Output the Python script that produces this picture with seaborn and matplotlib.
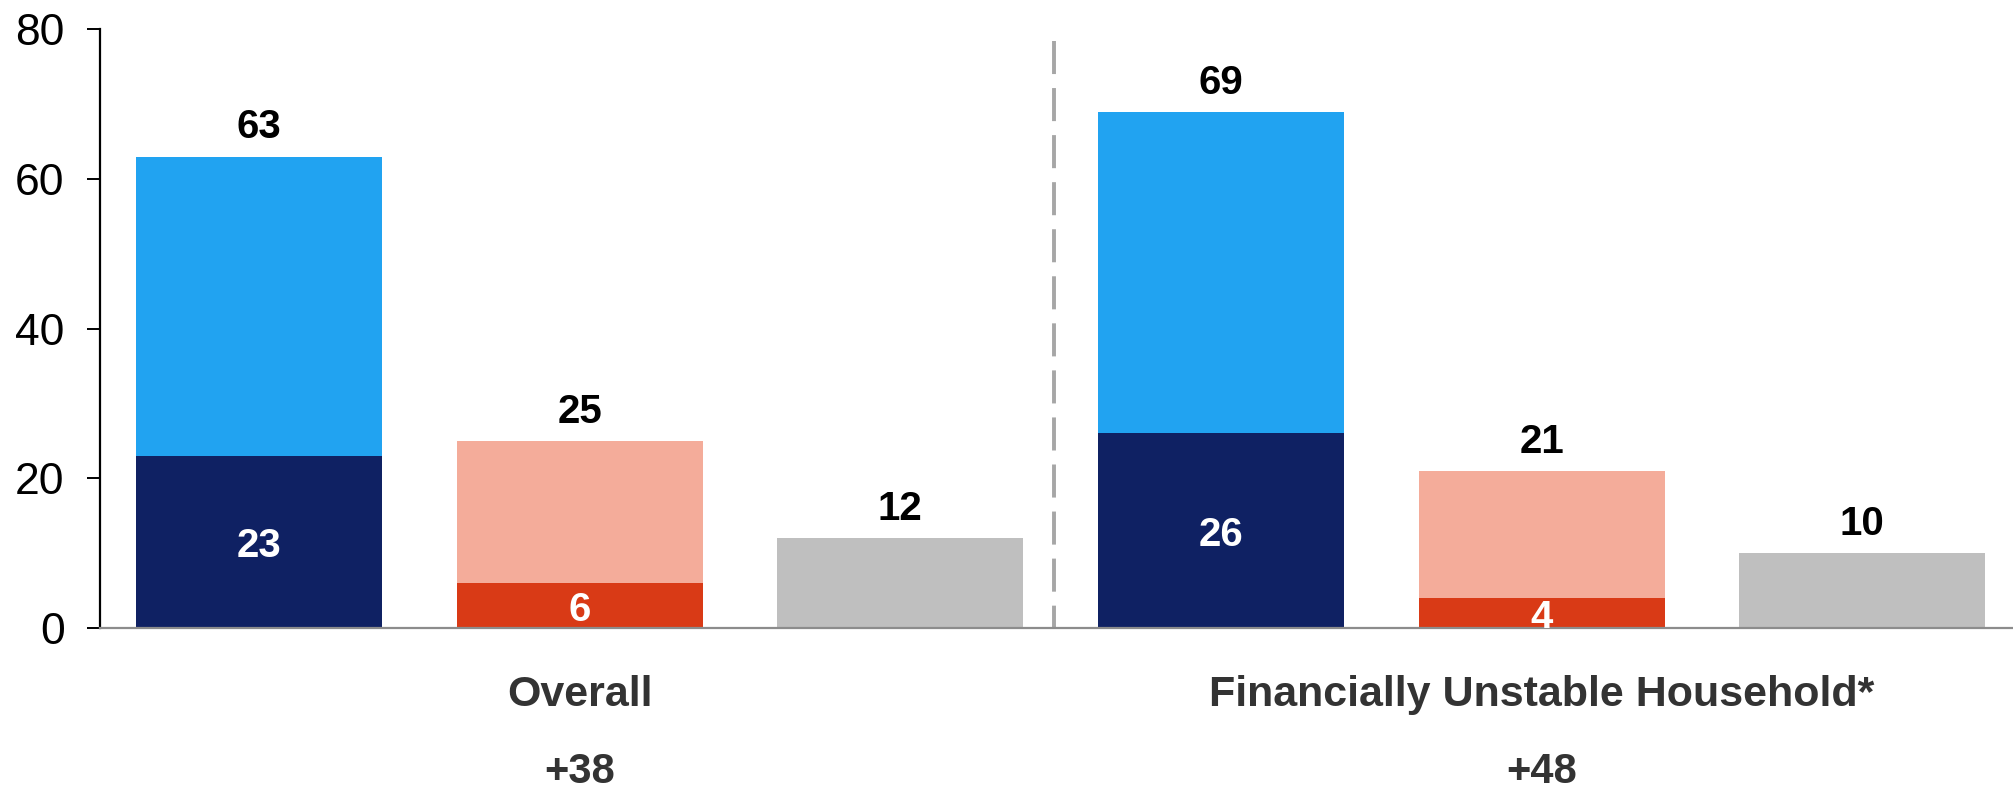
import matplotlib
matplotlib.use("Agg")
import matplotlib.pyplot as plt
import matplotlib.transforms as mtransforms
import seaborn as sns
import pandas as pd

# Bar slots: three bars per group, two groups
slots = ["o_pos", "o_neg", "o_neu", "f_pos", "f_neg", "f_neu"]
totals = [63, 25, 12, 69, 21, 10]
inner = [23, 6, 0, 26, 4, 0]
total_colors = ["#21A3F1", "#F4AC9A", "#BFBFBF", "#21A3F1", "#F4AC9A", "#BFBFBF"]
inner_colors = ["#0F2163", "#D93A16", "#0F2163", "#0F2163", "#D93A16", "#0F2163"]

groups = ["Overall", "Financially Unstable Household*"]
group_centers = [1, 4]
net_labels = ["+38", "+48"]

sns.set_style("white")
plt.rcParams["font.family"] = ["Liberation Sans", "DejaVu Sans"]

fig = plt.figure(figsize=(20.13, 7.94), dpi=100)
ax = fig.add_axes([0.0497, 0.209, 0.9503, 0.754])

df_tot = pd.DataFrame({"slot": slots, "value": totals})
df_in = pd.DataFrame({"slot": slots, "value": inner})

sns.barplot(data=df_tot, x="slot", y="value", hue="slot", order=slots, hue_order=slots,
            palette=total_colors, saturation=1, width=0.768, legend=False,
            linewidth=0, ax=ax)
sns.barplot(data=df_in, x="slot", y="value", hue="slot", order=slots, hue_order=slots,
            palette=inner_colors, saturation=1, width=0.768, legend=False,
            linewidth=0, ax=ax)

ax.set_xlim(-0.496, 5.47)
ax.set_ylim(0, 80)
ax.set_yticks([0, 20, 40, 60, 80])
ax.set_xticks([])
ax.set_xlabel("")
ax.set_ylabel("")

for s in ["top", "right"]:
    ax.spines[s].set_visible(False)
ax.spines["left"].set_color("black")
ax.spines["left"].set_linewidth(1.6)
ax.spines["bottom"].set_color("#8C8C8C")
ax.spines["bottom"].set_linewidth(1.6)
ax.tick_params(axis="y", length=9.5, width=1.4, color="black", labelsize=32,
               labelcolor="black", pad=16, left=True, direction="out")

# Separator between the two groups
ax.plot([2.48, 2.48], [78.5, 0], color="#A6A6A6", linewidth=2.8,
        linestyle=(0, (8.5, 3.6)), zorder=1)

# Value labels above each bar
for i, v in enumerate(totals):
    ax.text(i, v + 3.9, f"{v}", ha="center", va="center", fontsize=29,
            fontweight="bold", color="black")

# Value labels inside the bottom segments
for i, v in enumerate(inner):
    if v > 0:
        ax.text(i, v / 2 - 0.6, f"{v}", ha="center", va="center", fontsize=29,
                fontweight="bold", color="white", clip_on=True)

trans = mtransforms.blended_transform_factory(ax.transData, ax.transAxes)
for c, g, n in zip(group_centers, groups, net_labels):
    ax.text(c, -0.112, g, transform=trans, ha="center", va="center",
            fontsize=31, fontweight="bold", color="#333333")
    ax.text(c, -0.259, n, transform=trans, ha="center", va="baseline",
            fontsize=30, fontweight="bold", color="#333333")

fig.savefig("out.png", dpi=100)
